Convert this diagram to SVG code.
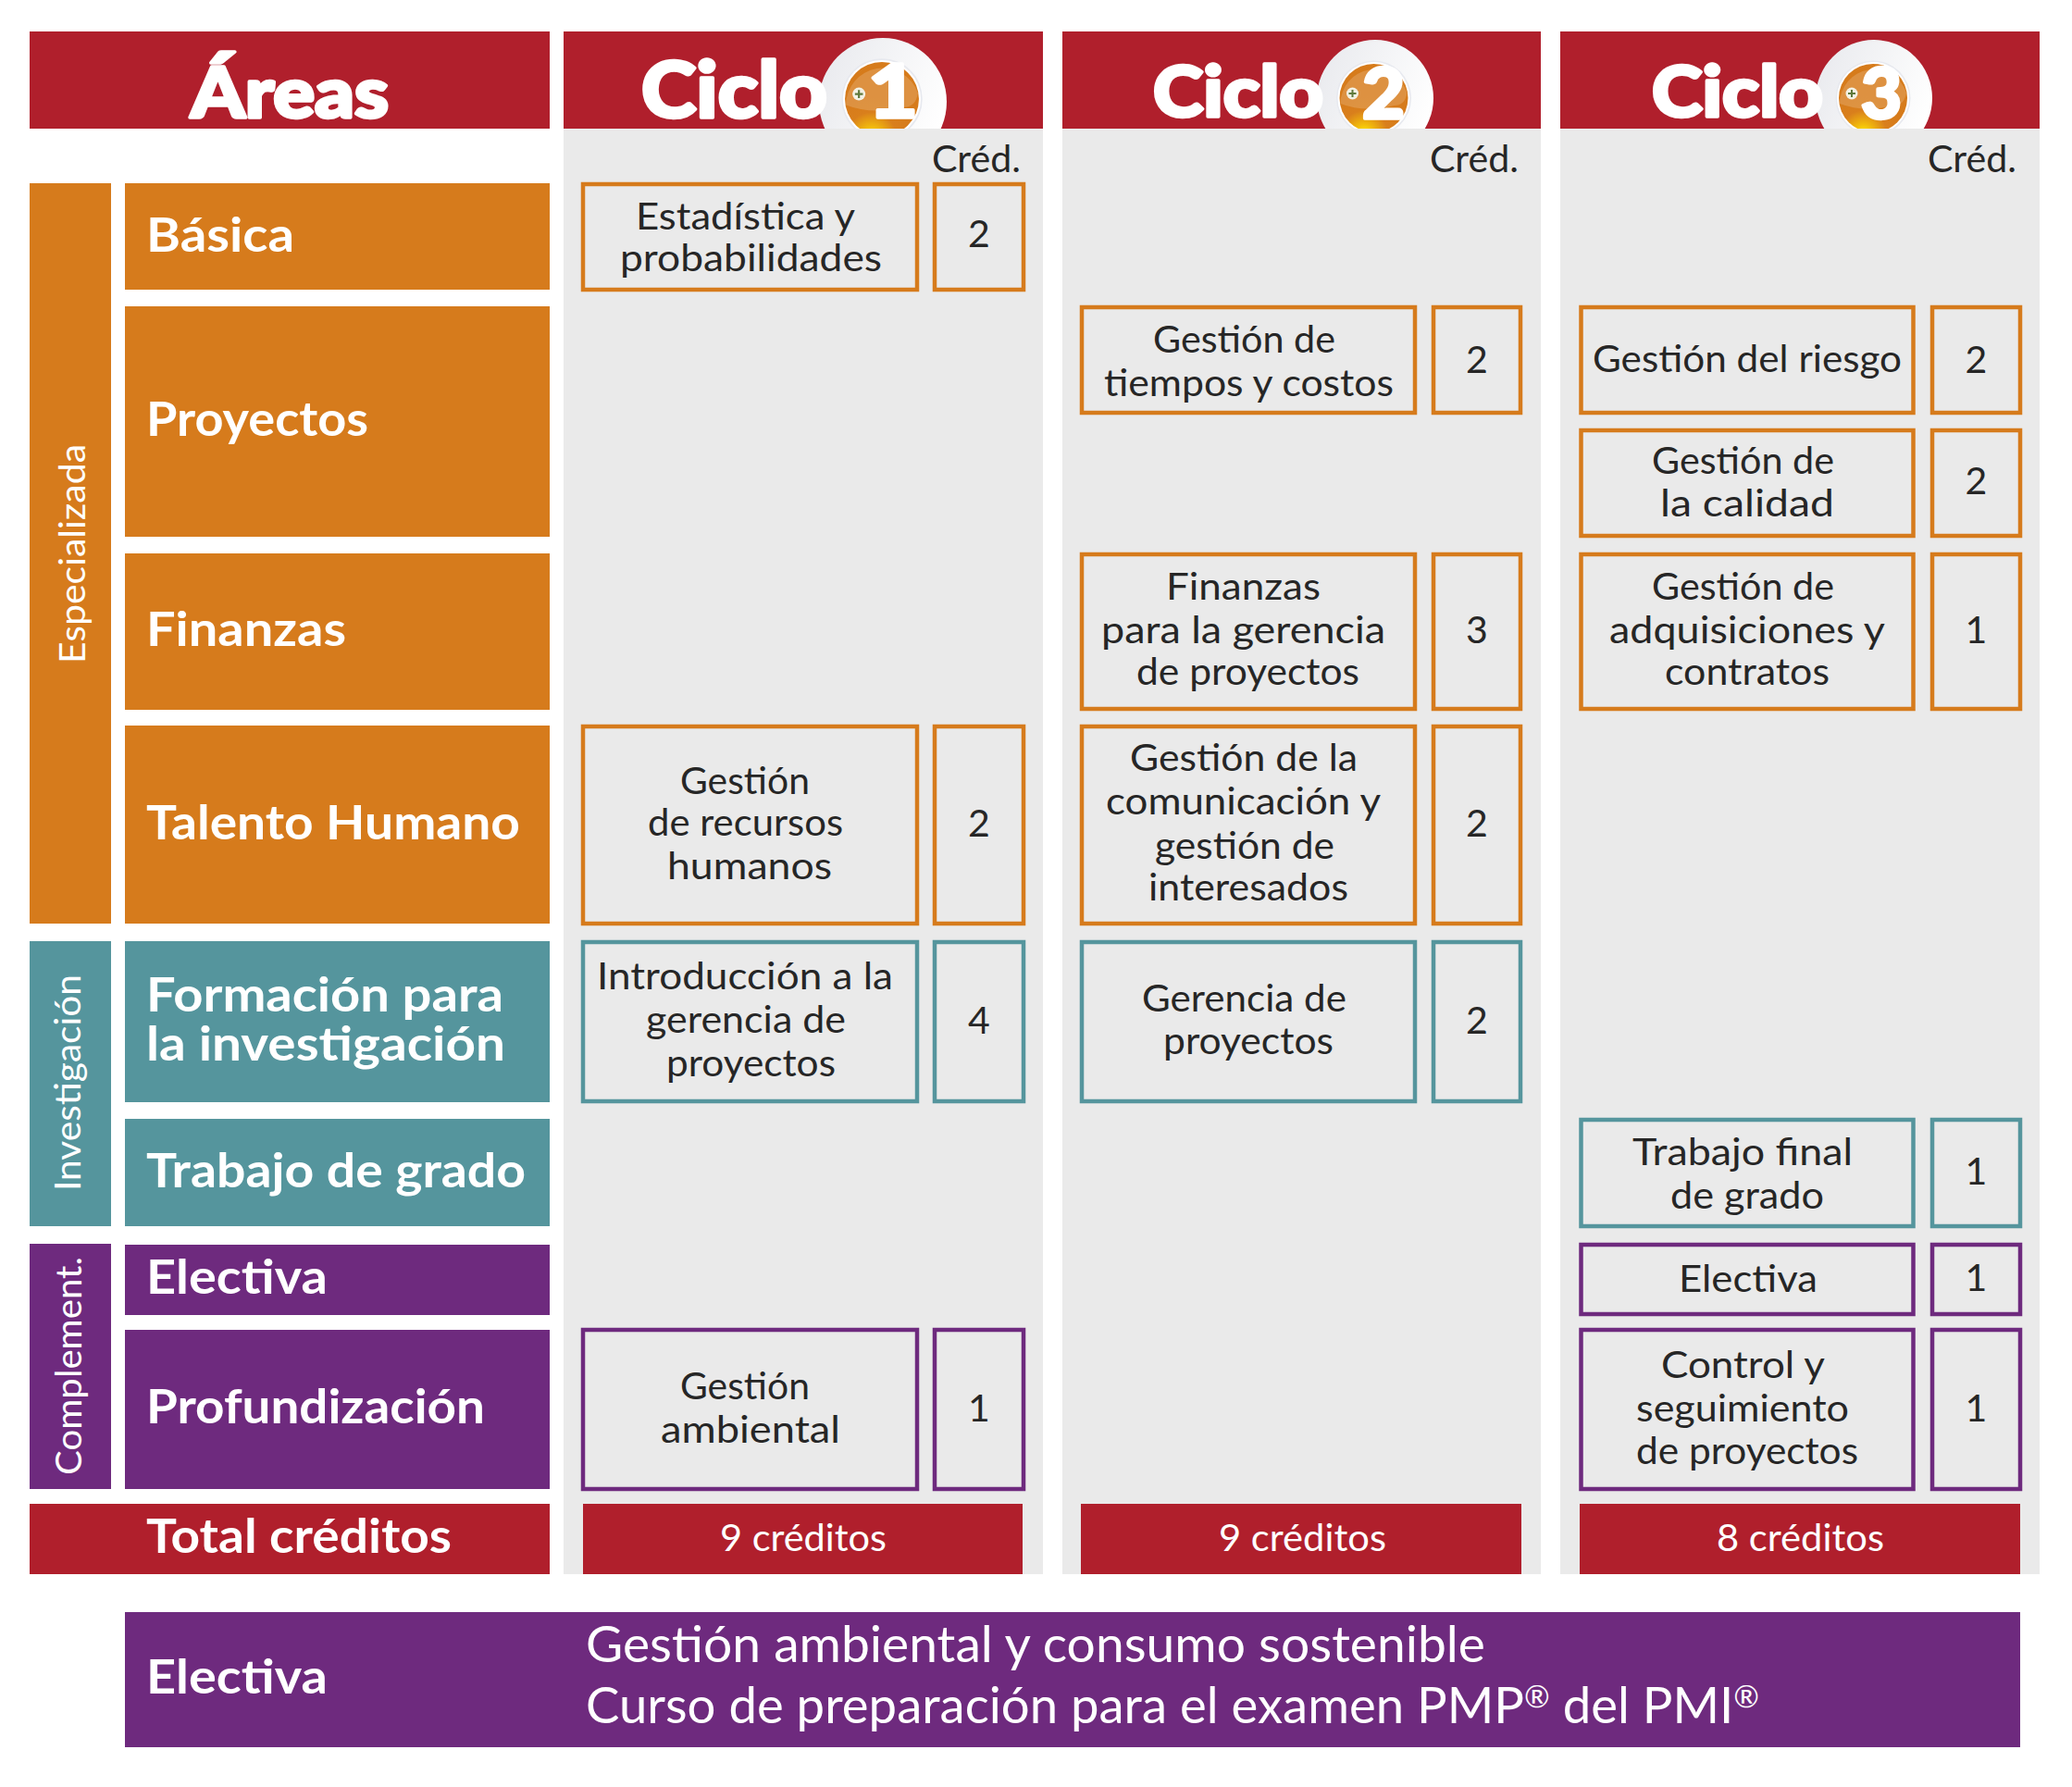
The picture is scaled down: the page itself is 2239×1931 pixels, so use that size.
<svg xmlns="http://www.w3.org/2000/svg" width="2239" height="1931" viewBox="0 0 2239 1931">
<style>
text{font-family:"Lato","Noto Sans",sans-serif}
.h{fill:#fff;stroke:#fff;stroke-width:3.5px;stroke-linejoin:round;font-weight:900;font-size:76px}
.a{fill:#fff;font-weight:700;font-size:52px}
.v{fill:#fff;font-weight:400;font-size:39px}
.t{fill:#262626;font-weight:400;font-size:41px}
.d{fill:#262626;font-weight:400;font-size:41px;text-anchor:middle}
.w{fill:#fff;font-weight:400;font-size:41px}
.e{fill:#fff;font-weight:400;font-size:54px}
.sup{font-size:33px}
.red{fill:#B01F2C}.or{fill:#D67B1C}.te{fill:#55959D}.pu{fill:#6E2A7E}.gr{fill:#EAEAEA}
.bo,.bt,.bp{fill:none;stroke-width:4.5}
.bo{stroke:#D67B1C}.bt{stroke:#55959D}.bp{stroke:#6E2A7E}
</style>
<defs>
<linearGradient id="halo" x1="0" y1="0.2" x2="1" y2="0.6"><stop offset="0" stop-color="#e9eaee"/><stop offset="1" stop-color="#ffffff"/></linearGradient>
<radialGradient id="ball" cx="0.36" cy="1.02" r="0.55"><stop offset="0" stop-color="#ffee00"/><stop offset="0.25" stop-color="#f2bb0c"/><stop offset="0.62" stop-color="#d97f1c"/><stop offset="1" stop-color="#d67b1b"/></radialGradient>
<g id="orb">
<circle r="40.5" fill="#e7e9ef"/><circle r="39" fill="#fff"/>
<circle r="37" fill="url(#ball)"/>
<path d="M-36,6 A37,37 0 0 1 36,-6 Q34,8 22,8 Q-10,16 -36,6Z" fill="#fff" opacity="0.17"/>
<circle cx="-23" cy="-5" r="6.5" fill="#f3f1e4"/>
<path d="M-27,-5H-19M-23,-9V-1" stroke="#5f7a3c" stroke-width="2" fill="none"/>
</g>
<clipPath id="hd"><rect x="0" y="0" width="2239" height="139"/></clipPath>
</defs>

<g id="panels">
<rect class="gr" x="609" y="139" width="518" height="1562"/>
<rect class="gr" x="1148" y="139" width="517" height="1562"/>
<rect class="gr" x="1686" y="139" width="518" height="1562"/>
</g>

<g id="header-areas"><rect class="red" x="32" y="34" width="562" height="105"/><text class="h" x="206" y="127" textLength="214" lengthAdjust="spacingAndGlyphs">Áreas</text></g>
<g id="header-ciclo1"><rect class="red" x="609" y="34" width="518" height="105"/>
<g clip-path="url(#hd)"><circle cx="954" cy="110" r="69" fill="url(#halo)"/><use href="#orb" transform="translate(953,107) scale(1.08)"/></g>
<text class="h" style="font-size:83px" x="693" y="127" textLength="201" lengthAdjust="spacingAndGlyphs">Ciclo</text>
<text class="h" style="font-size:80px" x="938" y="127" textLength="54" lengthAdjust="spacingAndGlyphs">1</text></g>
<g id="header-ciclo2"><rect class="red" x="1148" y="34" width="517" height="105"/>
<g clip-path="url(#hd)"><circle cx="1486" cy="106" r="63" fill="url(#halo)"/><use href="#orb" transform="translate(1484.5,106)"/></g>
<text class="h" x="1246" y="126" textLength="184" lengthAdjust="spacingAndGlyphs">Ciclo</text>
<text class="h" x="1472" y="128" textLength="46" lengthAdjust="spacingAndGlyphs">2</text></g>
<g id="header-ciclo3"><rect class="red" x="1686" y="34" width="518" height="105"/>
<g clip-path="url(#hd)"><circle cx="2025" cy="106" r="63" fill="url(#halo)"/><use href="#orb" transform="translate(2024,106)"/></g>
<text class="h" x="1785" y="126" textLength="185" lengthAdjust="spacingAndGlyphs">Ciclo</text>
<text class="h" x="2011" y="128" textLength="44" lengthAdjust="spacingAndGlyphs">3</text></g>

<g id="cred-labels">
<text class="t" x="1007" y="186" textLength="96" lengthAdjust="spacingAndGlyphs">Créd.</text>
<text class="t" x="1545" y="186" textLength="96" lengthAdjust="spacingAndGlyphs">Créd.</text>
<text class="t" x="2083" y="186" textLength="96" lengthAdjust="spacingAndGlyphs">Créd.</text>
</g>

<g id="group-especializada"><rect class="or" x="32" y="198" width="88" height="800"/><text class="v" transform="translate(92,717) rotate(-90)" textLength="237" lengthAdjust="spacingAndGlyphs">Especializada</text></g>
<g id="group-investigacion"><rect class="te" x="32" y="1017" width="88" height="308"/><text class="v" transform="translate(87,1287) rotate(-90)" textLength="234" lengthAdjust="spacingAndGlyphs">Investigación</text></g>
<g id="group-complement"><rect class="pu" x="32" y="1344" width="88" height="265"/><text class="v" transform="translate(88,1594) rotate(-90)" textLength="236" lengthAdjust="spacingAndGlyphs">Complement.</text></g>

<g id="area-basica"><rect class="or" x="135" y="198" width="459" height="115"/><text class="a" x="158" y="272" textLength="160" lengthAdjust="spacingAndGlyphs">Básica</text></g>
<g id="area-proyectos"><rect class="or" x="135" y="331" width="459" height="249"/><text class="a" x="158" y="471" textLength="240" lengthAdjust="spacingAndGlyphs">Proyectos</text></g>
<g id="area-finanzas"><rect class="or" x="135" y="598" width="459" height="169"/><text class="a" x="158" y="698" textLength="216" lengthAdjust="spacingAndGlyphs">Finanzas</text></g>
<g id="area-talento"><rect class="or" x="135" y="784" width="459" height="214"/><text class="a" x="158" y="907" textLength="404" lengthAdjust="spacingAndGlyphs">Talento Humano</text></g>
<g id="area-formacion"><rect class="te" x="135" y="1017" width="459" height="174"/><text class="a" x="158" y="1093" textLength="386" lengthAdjust="spacingAndGlyphs">Formación para</text><text class="a" x="158" y="1146" textLength="388" lengthAdjust="spacingAndGlyphs">la investigación</text></g>
<g id="area-trabajo"><rect class="te" x="135" y="1209" width="459" height="116"/><text class="a" x="158" y="1283" textLength="410" lengthAdjust="spacingAndGlyphs">Trabajo de grado</text></g>
<g id="area-electiva"><rect class="pu" x="135" y="1345" width="459" height="76"/><text class="a" x="158" y="1398" textLength="196" lengthAdjust="spacingAndGlyphs">Electiva</text></g>
<g id="area-profundizacion"><rect class="pu" x="135" y="1437" width="459" height="172"/><text class="a" x="158" y="1538" textLength="366" lengthAdjust="spacingAndGlyphs">Profundización</text></g>
<g id="area-total"><rect class="red" x="32" y="1625" width="562" height="76"/><text class="a" x="158" y="1678" textLength="330" lengthAdjust="spacingAndGlyphs">Total créditos</text></g>

<g id="c1-estadistica"><rect class="bo" x="630" y="199" width="361" height="114"/><text class="t" x="687" y="248" textLength="237" lengthAdjust="spacingAndGlyphs">Estadística y</text><text class="t" x="670" y="293" textLength="283" lengthAdjust="spacingAndGlyphs">probabilidades</text></g>
<g id="c1-estadistica-cr"><rect class="bo" x="1010" y="199" width="96" height="114"/><text class="d" x="1058" y="267">2</text></g>
<g id="c1-recursos"><rect class="bo" x="630" y="785" width="361" height="213"/><text class="t" x="735" y="858" textLength="140" lengthAdjust="spacingAndGlyphs">Gestión</text><text class="t" x="700" y="903" textLength="211" lengthAdjust="spacingAndGlyphs">de recursos</text><text class="t" x="721" y="950" textLength="178" lengthAdjust="spacingAndGlyphs">humanos</text></g>
<g id="c1-recursos-cr"><rect class="bo" x="1010" y="785" width="96" height="213"/><text class="d" x="1058" y="904">2</text></g>
<g id="c1-intro"><rect class="bt" x="630" y="1018" width="361" height="172"/><text class="t" x="645" y="1069" textLength="320" lengthAdjust="spacingAndGlyphs">Introducción a la</text><text class="t" x="698" y="1116" textLength="216" lengthAdjust="spacingAndGlyphs">gerencia de</text><text class="t" x="720" y="1163" textLength="183" lengthAdjust="spacingAndGlyphs">proyectos</text></g>
<g id="c1-intro-cr"><rect class="bt" x="1010" y="1018" width="96" height="172"/><text class="d" x="1058" y="1117">4</text></g>
<g id="c1-ambiental"><rect class="bp" x="630" y="1437" width="361" height="172"/><text class="t" x="735" y="1512" textLength="140" lengthAdjust="spacingAndGlyphs">Gestión</text><text class="t" x="714" y="1559" textLength="194" lengthAdjust="spacingAndGlyphs">ambiental</text></g>
<g id="c1-ambiental-cr"><rect class="bp" x="1010" y="1437" width="96" height="172"/><text class="d" x="1058" y="1536">1</text></g>
<g id="c1-total"><rect class="red" x="630" y="1625" width="475" height="76"/><text class="w" x="778" y="1676" textLength="180" lengthAdjust="spacingAndGlyphs">9 créditos</text></g>

<g id="c2-tiempos"><rect class="bo" x="1169" y="332" width="360" height="114"/><text class="t" x="1246" y="381" textLength="197" lengthAdjust="spacingAndGlyphs">Gestión de</text><text class="t" x="1193" y="428" textLength="313" lengthAdjust="spacingAndGlyphs">tiempos y costos</text></g>
<g id="c2-tiempos-cr"><rect class="bo" x="1549" y="332" width="94" height="114"/><text class="d" x="1596" y="403">2</text></g>
<g id="c2-finanzas"><rect class="bo" x="1169" y="599" width="360" height="167"/><text class="t" x="1260" y="648" textLength="167" lengthAdjust="spacingAndGlyphs">Finanzas</text><text class="t" x="1190" y="695" textLength="307" lengthAdjust="spacingAndGlyphs">para la gerencia</text><text class="t" x="1228" y="740" textLength="241" lengthAdjust="spacingAndGlyphs">de proyectos</text></g>
<g id="c2-finanzas-cr"><rect class="bo" x="1549" y="599" width="94" height="167"/><text class="d" x="1596" y="695">3</text></g>
<g id="c2-comunicacion"><rect class="bo" x="1169" y="785" width="360" height="213"/><text class="t" x="1221" y="833" textLength="246" lengthAdjust="spacingAndGlyphs">Gestión de la</text><text class="t" x="1195" y="880" textLength="297" lengthAdjust="spacingAndGlyphs">comunicación y</text><text class="t" x="1248" y="928" textLength="194" lengthAdjust="spacingAndGlyphs">gestión de</text><text class="t" x="1241" y="973" textLength="216" lengthAdjust="spacingAndGlyphs">interesados</text></g>
<g id="c2-comunicacion-cr"><rect class="bo" x="1549" y="785" width="94" height="213"/><text class="d" x="1596" y="904">2</text></g>
<g id="c2-gerencia"><rect class="bt" x="1169" y="1018" width="360" height="172"/><text class="t" x="1234" y="1093" textLength="221" lengthAdjust="spacingAndGlyphs">Gerencia de</text><text class="t" x="1257" y="1139" textLength="184" lengthAdjust="spacingAndGlyphs">proyectos</text></g>
<g id="c2-gerencia-cr"><rect class="bt" x="1549" y="1018" width="94" height="172"/><text class="d" x="1596" y="1117">2</text></g>
<g id="c2-total"><rect class="red" x="1168" y="1625" width="476" height="76"/><text class="w" x="1317" y="1676" textLength="181" lengthAdjust="spacingAndGlyphs">9 créditos</text></g>

<g id="c3-riesgo"><rect class="bo" x="1708.5" y="332" width="359" height="114"/><text class="t" x="1721" y="402" textLength="334" lengthAdjust="spacingAndGlyphs">Gestión del riesgo</text></g>
<g id="c3-riesgo-cr"><rect class="bo" x="2088" y="332" width="95" height="114"/><text class="d" x="2135.5" y="403">2</text></g>
<g id="c3-calidad"><rect class="bo" x="1708.5" y="465" width="359" height="114"/><text class="t" x="1785" y="512" textLength="197" lengthAdjust="spacingAndGlyphs">Gestión de</text><text class="t" x="1794" y="558" textLength="188" lengthAdjust="spacingAndGlyphs">la calidad</text></g>
<g id="c3-calidad-cr"><rect class="bo" x="2088" y="465" width="95" height="114"/><text class="d" x="2135.5" y="534">2</text></g>
<g id="c3-adquisiciones"><rect class="bo" x="1708.5" y="599" width="359" height="167"/><text class="t" x="1785" y="648" textLength="197" lengthAdjust="spacingAndGlyphs">Gestión de</text><text class="t" x="1739" y="695" textLength="298" lengthAdjust="spacingAndGlyphs">adquisiciones y</text><text class="t" x="1799" y="740" textLength="178" lengthAdjust="spacingAndGlyphs">contratos</text></g>
<g id="c3-adquisiciones-cr"><rect class="bo" x="2088" y="599" width="95" height="167"/><text class="d" x="2135.5" y="695">1</text></g>
<g id="c3-trabajo"><rect class="bt" x="1708.5" y="1210" width="359" height="115"/><text class="t" x="1764" y="1259" textLength="238" lengthAdjust="spacingAndGlyphs">Trabajo final</text><text class="t" x="1805" y="1306" textLength="166" lengthAdjust="spacingAndGlyphs">de grado</text></g>
<g id="c3-trabajo-cr"><rect class="bt" x="2088" y="1210" width="95" height="115"/><text class="d" x="2135.5" y="1280">1</text></g>
<g id="c3-electiva"><rect class="bp" x="1708.5" y="1345" width="359" height="75"/><text class="t" x="1814" y="1396" textLength="150" lengthAdjust="spacingAndGlyphs">Electiva</text></g>
<g id="c3-electiva-cr"><rect class="bp" x="2088" y="1345" width="95" height="75"/><text class="d" x="2135.5" y="1395">1</text></g>
<g id="c3-control"><rect class="bp" x="1708.5" y="1437" width="359" height="172"/><text class="t" x="1795" y="1489" textLength="177" lengthAdjust="spacingAndGlyphs">Control y</text><text class="t" x="1768" y="1536" textLength="230" lengthAdjust="spacingAndGlyphs">seguimiento</text><text class="t" x="1768" y="1582" textLength="240" lengthAdjust="spacingAndGlyphs">de proyectos</text></g>
<g id="c3-control-cr"><rect class="bp" x="2088" y="1437" width="95" height="172"/><text class="d" x="2135.5" y="1536">1</text></g>
<g id="c3-total"><rect class="red" x="1707" y="1625" width="476" height="76"/><text class="w" x="1855" y="1676" textLength="181" lengthAdjust="spacingAndGlyphs">8 créditos</text></g>

<g id="electiva-bottom"><rect class="pu" x="135" y="1742" width="2048" height="146"/>
<text class="a" x="158" y="1830" textLength="196" lengthAdjust="spacingAndGlyphs">Electiva</text>
<text class="e" x="633" y="1796" textLength="972" lengthAdjust="spacingAndGlyphs">Gestión ambiental y consumo sostenible</text>
<text class="e" x="633" y="1862" textLength="1268" lengthAdjust="spacingAndGlyphs">Curso de preparación para el examen PMP<tspan class="sup" dy="-17">®</tspan><tspan dy="17"> del PMI</tspan><tspan class="sup" dy="-17">®</tspan></text></g>
<g id="connectors"/>
</svg>
